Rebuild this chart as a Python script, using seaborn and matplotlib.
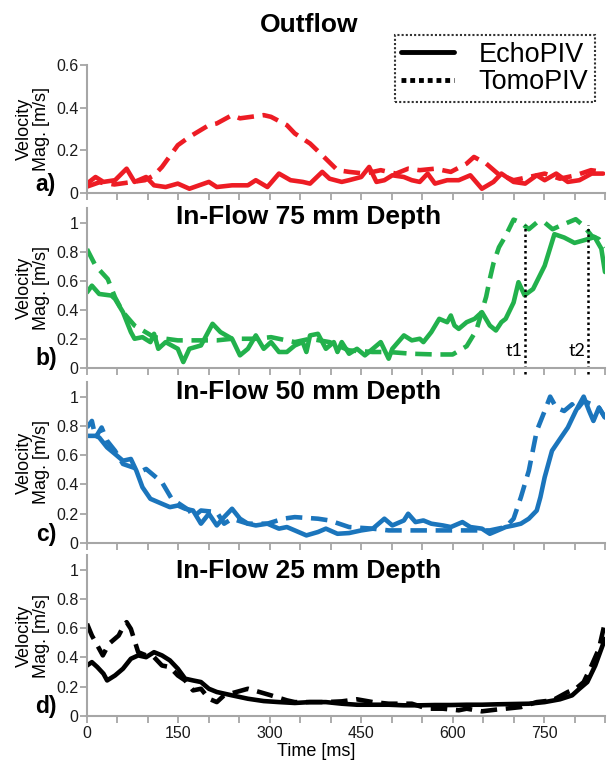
import numpy as np
import pandas as pd
import matplotlib
matplotlib.use("Agg")
import matplotlib.pyplot as plt
from matplotlib.lines import Line2D
from matplotlib.ticker import FuncFormatter
import seaborn as sns

# ================= DATA (time in ms, velocity magnitude in m/s) =================

# a) Outflow
out_echo_t = [0, 14, 27, 46, 65, 78, 97, 110, 129, 149, 168, 200, 213, 238, 264, 277, 296,
              315, 334, 354, 366, 386, 398, 418, 430, 450, 463, 475, 488, 501, 520, 533,
              546, 559, 571, 591, 610, 629, 648, 667, 680, 700, 719, 738, 751, 770, 789,
              808, 828, 847]
out_echo_v = [0.044, 0.075, 0.052, 0.06, 0.114, 0.052, 0.075, 0.036, 0.028, 0.044, 0.02,
              0.052, 0.028, 0.036, 0.036, 0.06, 0.028, 0.091, 0.06, 0.052, 0.044, 0.099,
              0.067, 0.052, 0.06, 0.075, 0.122, 0.052, 0.06, 0.083, 0.075, 0.06, 0.052,
              0.091, 0.044, 0.06, 0.06, 0.083, 0.02, 0.052, 0.091, 0.052, 0.044, 0.083,
              0.06, 0.091, 0.052, 0.06, 0.091, 0.091]
out_tomo_t = [0, 20, 45, 70, 95, 110, 123, 149, 168, 200, 213, 238, 251, 290, 302, 328, 341,
              366, 386, 411, 430, 456, 482, 507, 527, 546, 571, 597, 623, 635, 655, 674,
              700, 725, 751, 776, 802, 827, 847]
out_tomo_v = [0.03, 0.05, 0.04, 0.05, 0.06, 0.083, 0.122, 0.224, 0.263, 0.318, 0.326, 0.365,
              0.35, 0.365, 0.357, 0.318, 0.279, 0.232, 0.177, 0.107, 0.099, 0.091, 0.107,
              0.091, 0.114, 0.107, 0.114, 0.099, 0.138, 0.169, 0.138, 0.091, 0.06, 0.075,
              0.091, 0.067, 0.083, 0.107, 0.099]

# b) In-Flow 75 mm
d75_echo_t = [0, 8, 20, 40, 46, 59, 72, 78, 91, 104, 110, 117, 129, 149, 158, 168, 187, 206,
              219, 238, 251, 264, 277, 290, 302, 315, 328, 341, 354, 360, 366, 379, 392,
              405, 411, 418, 430, 443, 456, 469, 482, 495, 501, 520, 533, 546, 552, 565,
              578, 591, 597, 603, 610, 623, 636, 648, 661, 671, 680, 687, 700, 708, 718,
              732, 751, 767, 783, 800, 817, 833, 844, 850]
d75_echo_v = [0.52, 0.566, 0.509, 0.498, 0.475, 0.384, 0.247, 0.201, 0.212, 0.178, 0.235,
              0.132, 0.178, 0.132, 0.041, 0.132, 0.155, 0.304, 0.247, 0.201, 0.087, 0.132,
              0.224, 0.132, 0.178, 0.11, 0.11, 0.155, 0.178, 0.11, 0.224, 0.235, 0.132,
              0.178, 0.11, 0.178, 0.098, 0.132, 0.087, 0.132, 0.178, 0.064, 0.132, 0.224,
              0.19, 0.201, 0.178, 0.247, 0.338, 0.315, 0.361, 0.292, 0.269, 0.315, 0.338,
              0.384, 0.292, 0.258, 0.315, 0.338, 0.45, 0.59, 0.50, 0.543, 0.703, 0.92,
              0.897, 0.86, 0.88, 0.90, 0.82, 0.66]
d75_tomo_t = [0, 14, 34, 46, 59, 78, 110, 149, 187, 213, 238, 277, 302, 341, 366, 398, 430,
              469, 495, 533, 571, 600, 623, 639, 648, 655, 661, 667, 676, 687, 700, 712,
              725, 738, 751, 764, 776, 802, 815, 828, 840, 850]
d75_tomo_v = [0.817, 0.703, 0.612, 0.486, 0.384, 0.292, 0.212, 0.19, 0.19, 0.19, 0.201,
              0.201, 0.212, 0.178, 0.201, 0.178, 0.121, 0.11, 0.11, 0.098, 0.093, 0.093,
              0.15, 0.26, 0.39, 0.49, 0.612, 0.72, 0.83, 0.909, 1.02, 1.0, 0.954, 1.0, 1.0,
              0.954, 0.977, 1.023, 0.977, 0.909, 0.886, 0.829]

# c) In-Flow 50 mm
d50_echo_t = [0, 14, 20, 33, 46, 59, 72, 81, 91, 104, 123, 136, 149, 161, 174, 187, 200, 213,
              225, 238, 251, 264, 277, 296, 315, 328, 341, 360, 379, 392, 411, 430, 450,
              469, 488, 501, 520, 527, 539, 552, 565, 584, 597, 616, 629, 648, 661, 674,
              687, 700, 712, 725, 738, 744, 751, 763, 776, 789, 802, 815, 824, 831, 840, 850]
d50_echo_v = [0.732, 0.732, 0.721, 0.653, 0.608, 0.562, 0.574, 0.494, 0.381, 0.302, 0.268,
              0.245, 0.256, 0.234, 0.222, 0.132, 0.2, 0.12, 0.177, 0.234, 0.166, 0.132,
              0.12, 0.132, 0.098, 0.109, 0.086, 0.052, 0.075, 0.098, 0.063, 0.068, 0.086,
              0.098, 0.166, 0.12, 0.154, 0.2, 0.143, 0.154, 0.132, 0.12, 0.109, 0.143,
              0.109, 0.098, 0.063, 0.086, 0.109, 0.12, 0.132, 0.166, 0.222, 0.313, 0.449,
              0.63, 0.71, 0.789, 0.902, 1.0, 0.902, 0.834, 0.925, 0.857]
d50_tomo_t = [0, 8, 14, 24, 33, 46, 59, 91, 97, 123, 139, 168, 174, 187, 213, 225, 238, 264,
              296, 322, 341, 379, 398, 430, 469, 495, 520, 559, 591, 623, 661, 687, 700,
              712, 725, 738, 751, 760, 770, 783, 796, 802, 815, 828, 840, 850]
d50_tomo_v = [0.789, 0.834, 0.721, 0.789, 0.698, 0.63, 0.54, 0.494, 0.506, 0.415, 0.302,
              0.222, 0.177, 0.222, 0.211, 0.132, 0.166, 0.132, 0.132, 0.166, 0.177, 0.166,
              0.154, 0.109, 0.098, 0.086, 0.086, 0.086, 0.086, 0.086, 0.086, 0.109, 0.166,
              0.313, 0.494, 0.766, 0.902, 1.0, 0.925, 0.902, 0.948, 0.902, 0.97, 0.948,
              0.925, 0.857]

# d) In-Flow 25 mm
d25_echo_t = [0, 8, 17, 27, 33, 46, 59, 72, 84, 97, 110, 123, 136, 149, 161, 174, 187, 200,
              213, 238, 264, 290, 315, 341, 366, 392, 418, 443, 469, 495, 520, 546, 571,
              597, 623, 648, 674, 700, 725, 751, 776, 796, 808, 821, 834, 844, 850]
d25_echo_v = [0.345, 0.368, 0.334, 0.289, 0.243, 0.277, 0.323, 0.391, 0.414, 0.402, 0.436,
              0.414, 0.38, 0.323, 0.255, 0.243, 0.232, 0.186, 0.164, 0.141, 0.118, 0.102,
              0.095, 0.089, 0.095, 0.095, 0.084, 0.077, 0.077, 0.077, 0.073, 0.073, 0.075,
              0.075, 0.077, 0.077, 0.08, 0.082, 0.084, 0.095, 0.114, 0.141, 0.186, 0.232,
              0.345, 0.459, 0.527]
d25_tomo_t = [0, 8, 26, 36, 52, 59, 65, 72, 84, 97, 110, 123, 136, 149, 161, 174, 187, 200,
              213, 225, 245, 264, 283, 302, 328, 341, 366, 392, 418, 443, 469, 495, 533,
              559, 584, 610, 623, 648, 674, 687, 712, 738, 764, 789, 802, 815, 828, 840, 850]
d25_tomo_v = [0.63, 0.55, 0.414, 0.493, 0.55, 0.607, 0.641, 0.595, 0.436, 0.414, 0.402,
              0.345, 0.334, 0.277, 0.243, 0.175, 0.186, 0.118, 0.095, 0.141, 0.164, 0.186,
              0.164, 0.141, 0.107, 0.095, 0.095, 0.095, 0.1, 0.114, 0.095, 0.084, 0.084,
              0.05, 0.05, 0.039, 0.05, 0.032, 0.045, 0.05, 0.061, 0.095, 0.107, 0.164,
              0.186, 0.232, 0.345, 0.459, 0.641]

panel_titles = ["Outflow", "In-Flow 75 mm Depth", "In-Flow 50 mm Depth", "In-Flow 25 mm Depth"]
panel_tags = ["a)", "b)", "c)", "d)"]
panel_colors = ["#ED1C24", "#22B14C", "#1B75BC", "#000000"]
series_names = ["EchoPIV", "TomoPIV"]
marker_times = [718, 822]
marker_labels = ["t1", "t2"]

panels = [
    (out_echo_t, out_echo_v, out_tomo_t, out_tomo_v),
    (d75_echo_t, d75_echo_v, d75_tomo_t, d75_tomo_v),
    (d50_echo_t, d50_echo_v, d50_tomo_t, d50_tomo_v),
    (d25_echo_t, d25_echo_v, d25_tomo_t, d25_tomo_v),
]

# ================= STYLE =================

sns.set_style("ticks")
plt.rcParams["font.family"] = ["Liberation Sans", "DejaVu Sans"]
plt.rcParams["text.color"] = "black"
plt.rcParams["axes.labelcolor"] = "black"

W, H = 608, 763
fig = plt.figure(figsize=(W / 100, H / 100), dpi=100)

# axes boxes in pixels: (top, bottom)
boxes = [(65, 193), (208, 368), (382, 543), (555, 716)]
left_px, right_px = 87, 605
title_y = [25, 217, 392, 571]

spine_grey = "#A6A6A6"
LW = 3.3
DASH = (3.6, 1.9)

axes = []
for i, ((top, bot), (et, ev, tt, tv)) in enumerate(zip(boxes, panels)):
    ax = fig.add_axes([left_px / W, 1 - bot / H, (right_px - left_px) / W, (bot - top) / H])
    axes.append(ax)
    color = panel_colors[i]

    df_e = pd.DataFrame({"t": et, "v": ev})
    df_t = pd.DataFrame({"t": tt, "v": tv})
    sns.lineplot(data=df_e, x="t", y="v", ax=ax, color=color, lw=LW,
                 estimator=None, solid_capstyle="round", solid_joinstyle="round")
    sns.lineplot(data=df_t, x="t", y="v", ax=ax, color=color, lw=LW,
                 estimator=None, linestyle=(0, DASH), dash_capstyle="butt")

    ax.set_xlim(0, 850)
    if i == 0:
        ax.set_ylim(0, 0.6)
        ax.set_yticks([0, 0.2, 0.4, 0.6])
    else:
        ax.set_ylim(0, 1.1)
        ax.set_yticks([0, 0.2, 0.4, 0.6, 0.8, 1.0])
    ax.yaxis.set_major_formatter(FuncFormatter(lambda v, p: f"{v:g}"))

    xt = list(range(0, 851, 50))
    ax.set_xticks(xt)
    if i == 3:
        ax.set_xticklabels([str(x) if x % 150 == 0 and x <= 750 else "" for x in xt])
        ax.set_xlabel("Time [ms]", fontsize=13)
        ax.xaxis.set_label_coords((316 - left_px) / (right_px - left_px), -0.17)
    else:
        ax.set_xticklabels([])
        ax.set_xlabel("")

    ax.set_ylabel("Velocity\nMag. [m/s]", fontsize=13, linespacing=1.0)
    ax.yaxis.set_label_coords((50 - left_px) / (right_px - left_px), 0.5)

    for s in ["top", "right"]:
        ax.spines[s].set_visible(False)
    for s in ["left", "bottom"]:
        ax.spines[s].set_color(spine_grey)
        ax.spines[s].set_linewidth(1.5)
    ax.tick_params(axis="both", colors=spine_grey, length=5, width=1.3,
                   labelcolor="#1a1a1a", labelsize=11.5)
    ax.tick_params(axis="y", pad=1)
    ax.tick_params(axis="x", pad=2)
    ax.patch.set_alpha(0)

    fig.text(309 / W, 1 - title_y[i] / H, panel_titles[i], ha="center", va="center",
             fontsize=19, fontweight="bold")
    fig.text(46 / W, 1 - (bot - 9) / H, panel_tags[i], ha="center", va="center",
             fontsize=16.5, fontweight="bold")

# t1 / t2 markers on the 75 mm panel
axb = axes[1]
for mt, ml in zip(marker_times, marker_labels):
    axb.vlines(mt, -0.04, 0.98, colors="black", linestyles=(0, (1, 1.2)), lw=1.8,
               clip_on=False)
    axb.text(mt - 4, 0.12, ml, ha="right", va="center", fontsize=13,
             family=["Lato", "DejaVu Sans"])

# legend
handles = [
    Line2D([], [], color="black", lw=3.5),
    Line2D([], [], color="black", lw=3.5, linestyle=(0, (1, 0.8))),
]
leg = fig.legend(handles, series_names, loc="upper right",
                 bbox_to_anchor=(595 / W, 1 - 35 / H), fontsize=19.5,
                 frameon=True, fancybox=False, handlelength=1.95, handletextpad=0.9,
                 labelspacing=0.05, borderpad=0.25, borderaxespad=0)
frame = leg.get_frame()
frame.set_edgecolor("black")
frame.set_linestyle((0, (1, 1)))
frame.set_linewidth(1.5)

fig.savefig("out.png", dpi=100)
